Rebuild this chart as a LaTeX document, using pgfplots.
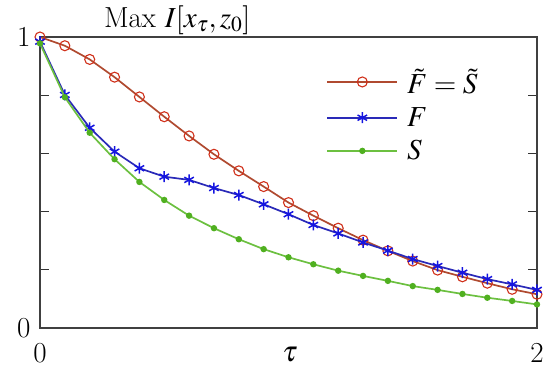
\documentclass[border=0pt]{standalone}
\usepackage{mathptmx}
\usepackage{pgfplots}
\pgfplotsset{compat=1.18}
\definecolor{cred}{HTML}{B04A30}
\definecolor{credm}{HTML}{D0301A}
\definecolor{cblue}{HTML}{2A2AB8}
\definecolor{cbluem}{HTML}{1515E0}
\definecolor{cgreen}{HTML}{6CC040}
\definecolor{cgreenm}{HTML}{50B020}
\begin{document}
\begin{tikzpicture}[font=\fontsize{29}{33}\selectfont]
\path[use as bounding box] (-40pt,-48pt) rectangle (510pt,328pt);
\begin{axis}[
  scale only axis, width=497pt, height=291pt,
  clip mode=individual,
  xmin=0, xmax=2, ymin=0, ymax=1,
  xtick={0,2}, xticklabels={0,2},
  ytick={0,0.2,0.4,0.6,0.8,1}, yticklabels={0,,,,,1},
  tick align=inside, major tick length=9pt,
  tick style={line width=1.1pt, black!80},
  axis line style={line width=1.4pt, black!75},
  xtick pos=both, ytick pos=both,
  ticklabel style={font=\fontsize{29}{33}\selectfont},
  xticklabel style={yshift=-12pt},
  yticklabel style={xshift=-6pt},
  xlabel={$\tau$},
  label style={font=\fontsize{29}{33}\selectfont},
  xlabel style={at={(axis description cs:0.503,0)}, anchor=north, yshift=-16pt},
  legend style={draw=none, fill=none, at={(rel axis cs:0.57,0.905)}, anchor=north west,
    row sep=8.5pt, font=\fontsize{29}{33}\selectfont,
    /tikz/every odd column/.append style={column sep=7pt}},
  legend cell align=left,
  legend image code/.code={%
    \draw[mark repeat=2,mark phase=2] plot coordinates {(0pt,0pt) (35pt,0pt) (70pt,0pt)};},
]
\node[anchor=south, inner sep=2pt, font=\fontsize{29}{33}\selectfont] at (rel axis cs:0.276,1) {Max $I[x_\tau,z_0]$};
\addplot[color=cred, line width=1.7pt, mark=o, mark size=5pt,
  mark options={draw=credm, line width=1.1pt}] coordinates {
(0,1.0) (0.1,0.970) (0.2,0.923) (0.3,0.862) (0.4,0.794) (0.5,0.726) (0.6,0.660)
(0.7,0.597) (0.8,0.540) (0.9,0.486) (1.0,0.431) (1.1,0.386) (1.2,0.343) (1.3,0.302)
(1.4,0.265) (1.5,0.230) (1.6,0.199) (1.7,0.176) (1.8,0.154) (1.9,0.133) (2.0,0.116)};
\addlegendentry{$\tilde F=\tilde S$}
\addplot[color=cblue, line width=1.7pt, mark=asterisk, mark size=5.5pt,
  mark options={draw=cbluem, line width=1.5pt}] coordinates {
(0,0.984) (0.1,0.801) (0.2,0.688) (0.3,0.606) (0.4,0.549) (0.5,0.520) (0.6,0.509)
(0.7,0.481) (0.8,0.457) (0.9,0.425) (1.0,0.391) (1.1,0.354) (1.2,0.325) (1.3,0.294)
(1.4,0.266) (1.5,0.237) (1.6,0.213) (1.7,0.190) (1.8,0.168) (1.9,0.150) (2.0,0.131)};
\addlegendentry{$F$}
\addplot[color=cgreen, line width=1.7pt, mark=*, mark size=2.3pt,
  mark options={draw=cgreenm, fill=cgreenm}] coordinates {
(0,0.978) (0.1,0.793) (0.2,0.671) (0.3,0.580) (0.4,0.502) (0.5,0.440) (0.6,0.386)
(0.7,0.343) (0.8,0.305) (0.9,0.271) (1.0,0.243) (1.1,0.219) (1.2,0.197) (1.3,0.179)
(1.4,0.162) (1.5,0.144) (1.6,0.131) (1.7,0.117) (1.8,0.104) (1.9,0.093) (2.0,0.081)};
\addlegendentry{$S$}
\end{axis}
\end{tikzpicture}
\end{document}
